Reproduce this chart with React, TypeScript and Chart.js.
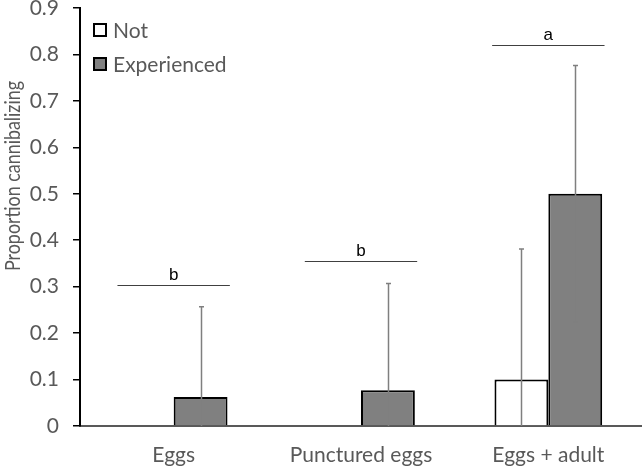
import React, { useEffect, useRef } from "react";
import { Chart, registerables } from "chart.js";

Chart.register(...registerables);

const categories = ["Eggs", "Punctured eggs", "Eggs + adult"];
const seriesNames = ["Not", "Experienced"];
const notValues = [0, 0, 0.1];
const expValues = [0.0625, 0.077, 0.5];
const notErrUpper = [null, null, 0.381];
const notErrLower = [null, null, 0];
const expErrUpper = [0.257, 0.307, 0.776];
const expErrLower = [0, 0, 0.224];
const sigY = [0.303, 0.356, 0.82];
const sigLabels = ["b", "b", "a"];
const yTicks = [0, 0.1, 0.2, 0.3, 0.4, 0.5, 0.6, 0.7, 0.8, 0.9];
const yTitle = "Proportion cannibalizing";

const FONT = "Lato, 'Open Sans', sans-serif";
const TEXT = "#595959";

const errUpper = [notErrUpper, expErrUpper];
const errLower = [notErrLower, expErrLower];

const overlayPlugin = {
  id: "overlay",
  afterDatasetsDraw(chart: any) {
    const ctx = chart.ctx;
    const x = chart.scales.x;
    const y = chart.scales.y;
    ctx.save();
    // error bars
    ctx.strokeStyle = "#7f7f7f";
    ctx.lineWidth = 1.5;
    for (let d = 0; d < 2; d++) {
      const meta = chart.getDatasetMeta(d);
      meta.data.forEach((bar: any, j: number) => {
        const up = errUpper[d][j];
        const lo = errLower[d][j];
        if (up == null || lo == null) return;
        const px = Math.round(bar.x) + 0.5;
        const y1 = y.getPixelForValue(up);
        const y2 = y.getPixelForValue(lo);
        ctx.beginPath();
        ctx.moveTo(px, y1);
        ctx.lineTo(px, y2);
        ctx.moveTo(px - 2.5, y1);
        ctx.lineTo(px + 2.5, y1);
        if (lo > 0) {
          ctx.moveTo(px - 2.5, y2);
          ctx.lineTo(px + 2.5, y2);
        }
        ctx.stroke();
      });
    }
    // significance lines
    const catW = x.getPixelForValue(1) - x.getPixelForValue(0);
    ctx.strokeStyle = "#404040";
    ctx.lineWidth = 1;
    ctx.fillStyle = "#000";
    ctx.font = "17px 'Liberation Sans', Arial, sans-serif";
    ctx.textAlign = "center";
    ctx.textBaseline = "alphabetic";
    categories.forEach((_, j) => {
      const cx = x.getPixelForValue(j);
      const py = Math.round(y.getPixelForValue(sigY[j])) + 0.5;
      ctx.beginPath();
      ctx.moveTo(cx - catW * 0.3, py);
      ctx.lineTo(cx + catW * 0.3, py);
      ctx.stroke();
      ctx.fillText(sigLabels[j], cx, py - 6);
    });
    // legend
    const ds = chart.data.datasets;
    const boxes = [30, 64];
    ctx.font = `21px ${FONT}`;
    ctx.textAlign = "left";
    ctx.textBaseline = "middle";
    ds.forEach((s: any, i: number) => {
      const cy = boxes[i];
      ctx.fillStyle = s.backgroundColor;
      ctx.fillRect(94, cy - 6, 12, 12);
      ctx.strokeStyle = "#000";
      ctx.lineWidth = 2;
      ctx.strokeRect(94, cy - 6, 12, 12);
      ctx.fillStyle = TEXT;
      ctx.fillText(s.label, 113, cy + 1);
    });
    // y-axis title
    ctx.font = `22px ${FONT}`;
    const w = ctx.measureText(yTitle).width;
    const sx = Math.min(1, 190 / w);
    ctx.translate(13, 176);
    ctx.rotate(-Math.PI / 2);
    ctx.scale(sx, 1);
    ctx.textAlign = "center";
    ctx.textBaseline = "middle";
    ctx.fillStyle = TEXT;
    ctx.fillText(yTitle, 0, 0);
    ctx.restore();
  },
};

export default function App() {
  const ref = useRef<HTMLCanvasElement>(null);
  useEffect(() => {
    if (!ref.current) return;
    const chart = new Chart(ref.current, {
      type: "bar",
      data: {
        labels: categories,
        datasets: [
          {
            label: seriesNames[0],
            data: notValues,
            backgroundColor: "#ffffff",
            borderColor: "#000000",
            borderWidth: 2,
          },
          {
            label: seriesNames[1],
            data: expValues,
            backgroundColor: "#808080",
            borderColor: "#000000",
            borderWidth: 2,
          },
        ],
      },
      options: {
        animation: false,
        responsive: false,
        maintainAspectRatio: false,
        layout: { padding: { top: 8, left: 0, right: 0, bottom: 0 } },
        plugins: { legend: { display: false }, tooltip: { enabled: false } },
        datasets: { bar: { categoryPercentage: 0.575, barPercentage: 1 } },
        scales: {
          x: {
            grid: { display: false, drawTicks: false },
            border: { display: true, color: "#595959", width: 2 },
            ticks: { color: TEXT, font: { family: FONT, size: 21 }, padding: 17 },
            afterFit(s: any) {
              s.height = 42;
              s.paddingLeft = 0;
              s.paddingRight = 0;
            },
          },
          y: {
            min: 0,
            max: 0.9,
            afterBuildTicks(s: any) {
              s.ticks = yTicks.map((v) => ({ value: v }));
            },
            grid: { drawOnChartArea: false, drawTicks: true, tickLength: 7, color: "#000", lineWidth: 1.5 },
            border: { display: true, color: "#000", width: 2 },
            ticks: {
              color: TEXT,
              font: { family: FONT, size: 21 },
              padding: 14,
              callback: (v: any) => (v === 0 ? "0" : Number(v).toFixed(1)),
            },
            afterFit(s: any) {
              s.width = 80;
              s.paddingTop = 0;
              s.paddingBottom = 0;
            },
          },
        },
      },
      plugins: [overlayPlugin],
    });
    return () => chart.destroy();
  }, []);
  return (
    <div style={{ position: "fixed", left: 0, top: 0, width: 642, height: 468, background: "#fff" }}>
      <canvas ref={ref} width={642} height={468} style={{ width: 642, height: 468 }} />
    </div>
  );
}
